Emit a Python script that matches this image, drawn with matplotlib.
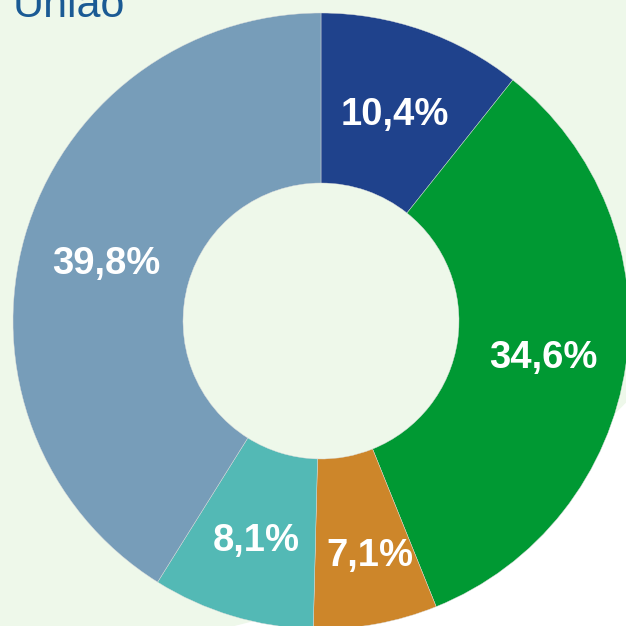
import matplotlib
matplotlib.use("Agg")
import matplotlib.pyplot as plt
from matplotlib.patches import Circle
import numpy as np

# Data (wedge sizes; labels as shown)
categories = ["A", "B", "C", "D", "E"]
values = [10.7, 33.2, 6.5, 8.5, 41.1]
labels = ["10,4%", "34,6%", "7,1%", "8,1%", "39,8%"]
colors = ["#1F428C", "#009933", "#CD862A", "#53B9B5", "#779DB9"]
title = "União"

W = H = 626
fig = plt.figure(figsize=(W / 100, H / 100), dpi=100)
fig.patch.set_facecolor("white")

# light green background shape
bg = fig.add_axes([0, 0, 1, 1])
bg.set_xlim(0, W)
bg.set_ylim(0, H)
bg.axis("off")
bg.add_patch(Circle((37, 801), 825, facecolor="#EEF8EA", edgecolor="none"))

# donut axes: center at (321, 321) px from top-left, radius 308 px
cx, cy_top, R = 321, 321, 308
cy = H - cy_top
ax = fig.add_axes([(cx - R) / W, (cy - R) / H, 2 * R / W, 2 * R / H])
ax.axis("off")
wedges, _ = ax.pie(values, colors=colors, startangle=90, counterclock=False,
                   radius=1.0, wedgeprops=dict(width=0.552, edgecolor="#dddddd",
                                               linewidth=0.3))
for w in wedges:
    w.set_clip_on(False)
ax.set_xlim(-1, 1)
ax.set_ylim(-1, 1)
ax.set_aspect("equal")

dist = [0.725, 0.73, 0.765, 0.73, 0.725]
ang_off = [0, 0, 1.8, 0, 0]
cum = np.cumsum([0] + values)
total = sum(values)
for i, lab in enumerate(labels):
    mid = 90 - (cum[i] + values[i] / 2) / total * 360 + ang_off[i]
    th = np.deg2rad(mid)
    ax.text(dist[i] * np.cos(th), dist[i] * np.sin(th) - 5 / R, lab, ha="center",
            va="center", color="white", fontsize=27.5, fontweight="bold",
            family="Liberation Sans", clip_on=False)

fig.text(13 / W, 1 - 17 / H, title, ha="left", va="baseline", fontsize=31,
         color="#1A5A94", family="Liberation Sans")

fig.savefig("out.png", dpi=100, facecolor=fig.get_facecolor())
